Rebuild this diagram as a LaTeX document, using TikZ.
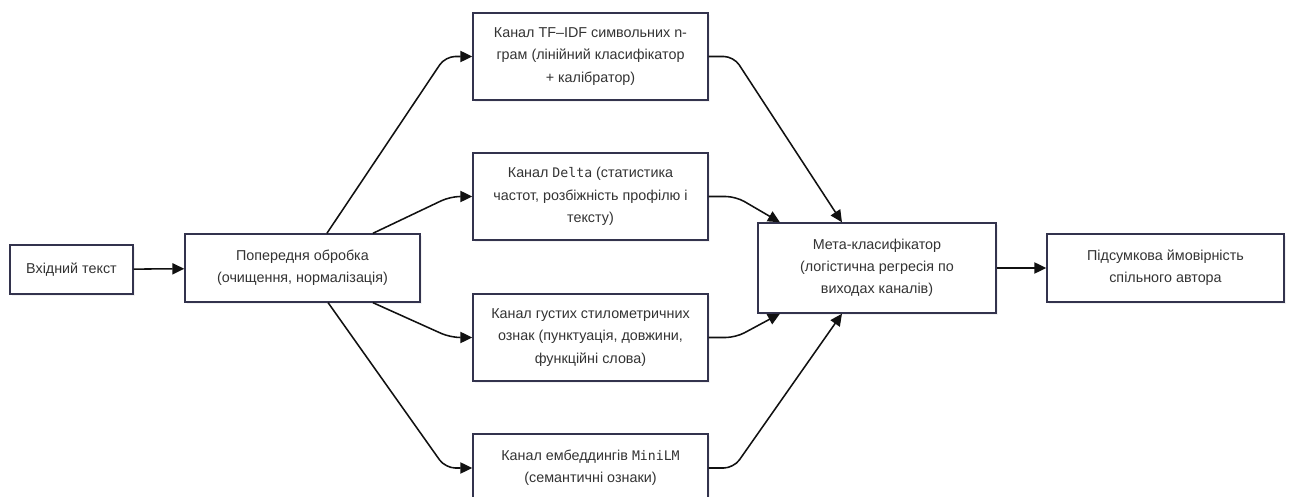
\documentclass[tikz,border=0pt]{standalone}
\usepackage{fontspec}
\setmainfont{Liberation Sans}
\newfontfamily\codefont{DejaVu Sans Mono}[Scale=0.92]
\usepackage{tikz}
\usetikzlibrary{arrows.meta, positioning, calc, shadows}
\definecolor{boxline}{HTML}{33334D}
\definecolor{boxtext}{HTML}{333333}
\definecolor{flowline}{HTML}{111111}
\newcommand{\chancode}[1]{{\codefont #1}}

\begin{document}
\begin{tikzpicture}[
  x=0.025cm, y=-0.025cm,
  block/.style={
    rectangle, draw=boxline, fill=white, line width=0.95pt,
    text=boxtext, align=center, inner sep=2pt,
    font=\fontsize{10.2}{15.8}\selectfont,
    drop shadow={opacity=0.10, shadow xshift=1.2pt, shadow yshift=-1.2pt},
  },
  channel/.style={block, minimum width=5.875cm, minimum height=2.175cm},
  flow/.style={-{Triangle[length=3mm, width=2.8mm]}, draw=flowline,
    line width=1.1pt, rounded corners=7pt},
]
  \useasboundingbox (0,0) rectangle (1291,497);

  % Input and preprocessing (left)
  \node[block, minimum width=3.075cm, minimum height=1.225cm]
    (input) at (71.5,269.5) {Вхідний текст};
  \node[block, minimum width=5.875cm, minimum height=1.7cm]
    (prep) at (302.5,268) {Попередня обробка\\(очищення, нормалізація)};

  % Channels (middle column)
  \node[channel] (tfidf) at (590.5,56.5) {
    Канал TF–IDF символьних n-\\
    грам (лінійний класифікатор\\
    + калібратор)
  };
  \node[channel] (delta) at (590.5,196.5) {
    Канал \chancode{Delta} (статистика\\
    частот, розбіжність профілю і\\
    тексту)
  };
  \node[channel] (dense) at (590.5,337.5) {
    Канал густих стилометричних\\
    ознак (пунктуація, довжини,\\
    функційні слова)
  };
  \node[channel, minimum height=1.7cm] (minilm) at (590.5,468) {
    Канал ембеддингів \chancode{MiniLM}\\
    (семантичні ознаки)
  };

  % Meta-classifier and result (right)
  \node[block, minimum width=5.95cm, minimum height=2.25cm] (meta) at (877,268) {
    Мета-класифікатор\\
    (логістична регресія по\\
    виходах каналів)
  };
  \node[block, minimum width=5.925cm, minimum height=1.7cm]
    (final) at (1165.5,268) {Підсумкова ймовірність\\спільного автора};

  % Arrows
  \draw[flow] (input) -- (prep);
  \draw[flow] ([xshift=0.61cm]prep.north) -- ([xshift=-0.675cm]tfidf.west) -- (tfidf.west);
  \draw[flow] ([xshift=1.76cm]prep.north) -- ([xshift=-0.55cm]delta.west) -- (delta.west);
  \draw[flow] ([xshift=1.76cm]prep.south) -- ([xshift=-0.55cm]dense.west) -- (dense.west);
  \draw[flow] ([xshift=0.64cm]prep.south) -- ([xshift=-0.675cm]minilm.west) -- (minilm.west);

  \draw[flow] (tfidf.east) -- ([xshift=0.625cm]tfidf.east) -- ([xshift=-0.875cm]meta.north);
  \draw[flow] (delta.east) -- ([xshift=0.675cm]delta.east) -- ([xshift=-2.425cm]meta.north);
  \draw[flow] (dense.east) -- ([xshift=0.675cm]dense.east) -- ([xshift=-2.425cm]meta.south);
  \draw[flow] (minilm.east) -- ([xshift=0.625cm]minilm.east) -- ([xshift=-0.875cm]meta.south);

  \draw[flow] (meta) -- (final);
\end{tikzpicture}
\end{document}
